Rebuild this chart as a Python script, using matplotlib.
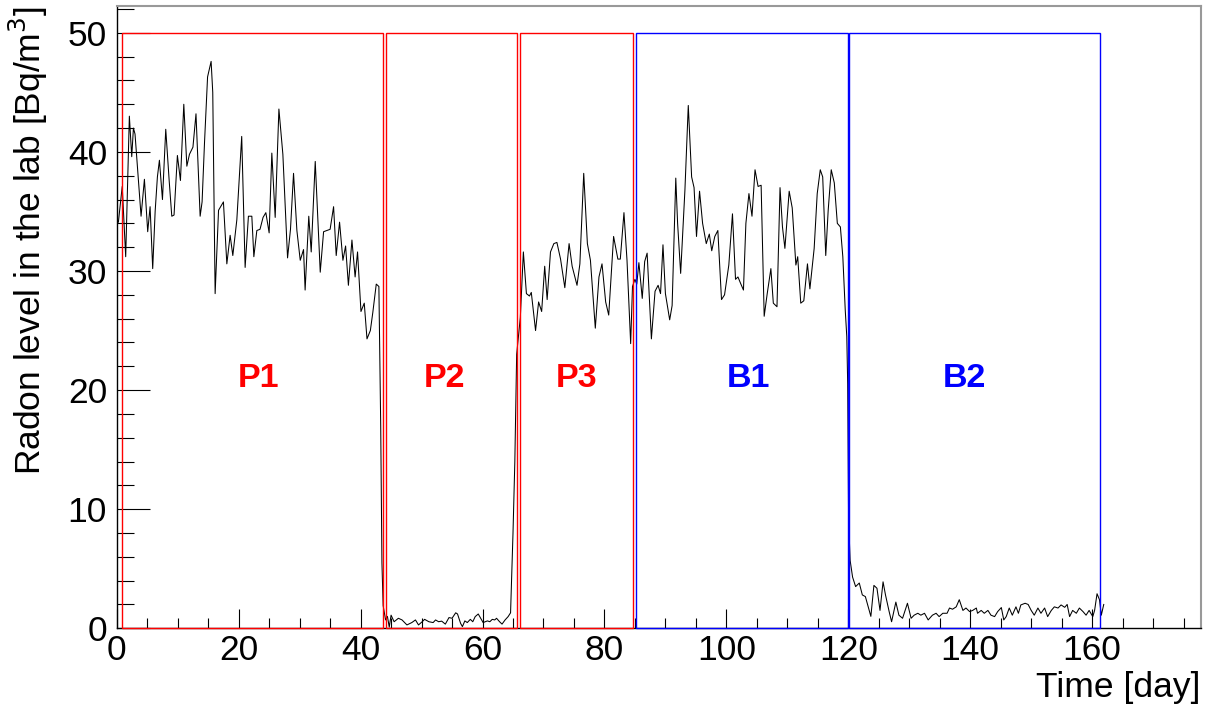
import matplotlib
matplotlib.use("Agg")
import matplotlib.pyplot as plt
from matplotlib.patches import Rectangle
from matplotlib.ticker import MultipleLocator

plt.rcParams['font.family'] = ['Liberation Sans', 'DejaVu Sans']

# ---- data ----
day = [0.27, 0.9, 1.47, 2.07, 2.46, 2.74, 3.0, 3.99, 4.54, 5.08, 5.47, 5.9, 6.3, 6.67, 7.0, 7.5,
       8.04, 8.6, 9.03, 9.4, 9.95, 10.45, 11.0, 11.5, 11.93, 12.5, 13.0, 13.25, 13.68, 14.0, 14.4,
       14.9, 15.48, 15.75, 16.14, 16.7, 17.5, 18.06, 18.6, 19.04, 19.7, 20.5, 21.06, 21.6, 22.16,
       22.49, 22.98, 23.5, 24.0, 24.46, 25.0, 25.44, 25.99, 26.6, 27.25, 28.02, 28.5, 29.0, 29.55,
       30.1, 30.64, 30.9, 31.5, 31.9, 32.56, 33.38, 33.93, 35.0, 35.57, 36.0, 36.55, 37.1, 37.54,
       38.0, 38.58, 39.1, 39.5, 40.06, 40.6, 41.05, 41.6, 42.0, 42.57, 43.0, 43.3, 43.5, 43.7,
       44.1, 44.4, 44.7, 45.0, 45.5, 46.2, 46.8, 47.6, 48.4, 49.0, 49.5, 50.1, 50.5, 51.2, 51.9,
       52.3, 52.8, 53.3, 53.9, 54.5, 55.0, 55.6, 55.9, 56.4, 56.7, 57.1, 57.5, 58.0, 58.4, 58.8,
       59.3, 59.7, 60.1, 60.8, 61.2, 61.6, 62.0, 62.3, 62.8, 63.2, 63.7, 64.2, 64.6, 64.8, 65.0,
       65.3, 65.6, 66.2, 66.7, 67.2, 67.7, 68.0, 68.7, 69.2, 69.7, 70.2, 70.6, 71.15, 71.7, 72.2,
       72.8, 73.5, 74.2, 74.7, 75.5, 75.97, 76.6, 77.2, 77.7, 78.5, 79.1, 79.6, 80.2, 80.7, 81.5,
       82.2, 82.6, 83.2, 83.7, 84.3, 84.6, 85.0, 85.3, 85.65, 86.2, 86.6, 87.0, 87.7, 88.3, 88.8,
       89.2, 89.6, 90.0, 90.7, 91.1, 91.7, 92.0, 92.5, 93.2, 93.75, 94.3, 94.7, 95.1, 95.6, 96.1,
       96.7, 97.2, 97.6, 98.1, 98.6, 99.2, 99.7, 100.4, 101.0, 101.5, 101.9, 102.3, 102.8, 103.2,
       103.7, 104.2, 104.7, 105.2, 105.7, 106.2, 106.7, 107.3, 107.7, 108.3, 108.8, 109.2, 109.6,
       110.3, 110.8, 111.4, 111.7, 112.2, 112.7, 113.3, 113.7, 114.4, 114.9, 115.4, 115.8, 116.3,
       116.7, 117.2, 117.7, 118.2, 118.7, 119.1, 119.5, 119.75, 119.9, 120.05, 120.3,
       120.7, 121.2, 121.8, 122.3, 122.8, 123.1, 123.7, 124.2, 124.7, 125.2, 125.7, 126.1, 126.7,
       127.1, 127.8, 128.3, 128.9, 129.7, 130.3, 130.8, 131.4, 131.9, 132.5, 133.1, 133.8, 134.4,
       134.9, 135.5, 136.2, 136.6, 137.1, 137.7, 138.2, 138.8, 139.3, 139.9, 140.4, 141.0, 141.2,
       141.8, 142.3, 142.9, 143.4, 144.0, 144.5, 145.1, 145.5, 145.9, 146.4, 146.9, 147.5, 147.9,
       148.3, 149.0, 149.5, 150.0, 150.5, 151.1, 151.6, 152.2, 152.7, 153.3, 153.8, 154.4, 154.9,
       155.5, 155.9, 156.3, 156.8, 157.4, 157.9, 158.5, 159.0, 159.5, 160.1, 160.4, 160.8, 161.2,
       161.5, 161.9]

radon = [34.1, 37.1, 31.2, 43.0, 39.6, 42.0, 41.5, 34.6, 37.7, 33.3, 35.4, 30.2, 35.0, 37.9, 39.3, 36.0,
         41.9, 37.6, 34.6, 34.7, 39.7, 37.6, 44.0, 38.8, 39.8, 40.4, 43.2, 40.0, 34.6, 35.8, 40.8,
         46.3, 47.6, 45.0, 28.1, 35.1, 35.8, 30.6, 33.0, 31.3, 34.3, 41.3, 30.3, 34.6, 34.6,
         31.2, 33.4, 33.5, 34.5, 34.9, 33.2, 39.9, 34.5, 43.6, 39.8, 31.1, 33.5, 38.2, 33.4,
         30.9, 31.8, 28.4, 34.6, 31.6, 39.2, 29.9, 33.3, 33.5, 35.4, 31.3, 34.1, 30.9, 32.1,
         28.8, 32.6, 29.5, 31.6, 26.6, 27.3, 24.3, 25.0, 26.5, 28.9, 28.7, 17.0, 5.5, 1.9,
         0.7, 1.0, 0.1, 1.1, 0.55, 0.84, 0.7, 0.28, 0.48, 0.7, 0.28, 0.55, 0.75, 0.55, 0.48,
         0.7, 0.55, 0.6, 0.35, 0.9, 0.84, 1.3, 1.2, 0.42, 0.14, 0.62, 0.48, 0.75, 0.55, 0.98,
         1.2, 0.84, 0.48, 0.62, 0.55, 0.75, 0.7, 0.84, 0.55, 0.35, 0.7, 0.98, 1.3, 4.6, 8.0,
         14.0, 23.0, 26.1, 31.6, 28.1, 27.9, 28.2, 25.0, 27.4, 26.6, 30.4, 27.6, 31.6, 32.3, 32.4,
         31.0, 28.6, 32.3, 30.4, 28.8, 30.6, 38.2, 32.3, 30.9, 25.2, 29.5, 30.6, 27.4, 26.3, 32.9,
         31.0, 31.0, 34.9, 30.9, 23.9, 28.7, 29.3, 28.9, 30.7, 27.7, 30.8, 31.5, 24.3, 28.3, 28.8,
         28.1, 32.2, 28.1, 25.9, 27.1, 37.8, 34.0, 29.8, 36.8, 43.9, 37.9, 37.0, 32.9, 36.7, 34.0,
         32.3, 33.1, 31.7, 32.9, 33.4, 27.6, 28.0, 30.5, 34.8, 29.3, 29.5, 29.0, 28.4, 34.0,
         36.5, 34.6, 38.5, 37.1, 37.2, 26.2, 28.1, 30.2, 27.3, 27.0, 37.0, 33.7, 31.9,
         36.7, 35.3, 30.5, 31.2, 27.3, 27.5, 30.6, 28.5, 31.9, 36.5, 38.5, 37.9, 31.3,
         35.1, 38.5, 37.4, 34.0, 33.7, 31.2, 26.7, 24.5, 20.5, 9.0, 5.7,
         4.3, 3.5, 3.8, 2.8, 2.66, 2.1, 1.0, 3.6, 3.36, 1.5, 3.9, 2.8, 1.4,
         0.55, 2.2, 1.1, 0.84, 2.1, 0.84, 1.1, 1.26, 1.1, 1.26, 0.7, 1.1, 1.26,
         0.98, 1.26, 1.26, 1.7, 1.6, 1.8, 2.4, 1.5, 1.7, 1.4, 1.5, 1.7, 1.26,
         1.5, 1.26, 1.5, 1.1, 0.98, 1.4, 1.74, 0.7, 0.98, 1.7, 1.1, 1.8, 1.26,
         1.96, 2.1, 2.0, 1.5, 1.1, 1.7, 1.26, 1.7, 0.98, 1.5, 1.8, 1.7, 1.96,
         1.76, 2.0, 0.98, 1.5, 1.26, 1.7, 1.4, 1.1, 1.5, 0.98, 1.5, 2.9, 2.4,
         1.1, 2.0]

box_names = ["P1", "P2", "P3", "B1", "B2"]
box_start = [0.87, 44.2, 66.1, 85.2, 120.1]
box_end = [43.7, 65.6, 84.7, 120.0, 161.3]
box_colors = ["#ff0000", "#ff0000", "#ff0000", "#0000ff", "#0000ff"]
box_top = 50
label_x = [23.2, 53.7, 75.5, 103.7, 139.0]
label_y = 21.0

# ---- figure ----
fig = plt.figure(figsize=(12.16, 7.08), dpi=100)
ax = fig.add_axes([0.096, 0.1126, 0.8914, 0.8789])

ax.plot(day, radon, color='black', lw=0.75, zorder=2)

for name, s, e, c, lx in zip(box_names, box_start, box_end, box_colors, label_x):
    ax.add_patch(Rectangle((s, 0), e - s, box_top, fill=False, ec=c, lw=1.0,
                           zorder=3, clip_on=False))
    ax.text(lx, label_y, name, color=c, fontsize=24.5, fontweight='bold',
            ha='center', va='center')

ax.set_xlim(0, 177.8)
ax.set_ylim(0, 52.25)

ax.xaxis.set_major_locator(MultipleLocator(20))
ax.xaxis.set_minor_locator(MultipleLocator(5))
ax.yaxis.set_major_locator(MultipleLocator(10))
ax.yaxis.set_minor_locator(MultipleLocator(2))

ax.tick_params(axis='both', which='both', direction='in', width=0.8, colors='black')
ax.tick_params(axis='x', which='major', length=13.7, pad=4, labelsize=25.5)
ax.tick_params(axis='x', which='minor', length=7.2)
ax.tick_params(axis='y', which='major', length=23.8, pad=7, labelsize=25.5)
ax.tick_params(axis='y', which='minor', length=12)

for side in ['left', 'bottom']:
    ax.spines[side].set_color('black')
    ax.spines[side].set_linewidth(1.0)
for side in ['top', 'right']:
    ax.spines[side].set_color('#999999')
    ax.spines[side].set_linewidth(1.5)

ax.set_xlabel('Time [day]', fontsize=25.5, loc='right')
ax.xaxis.set_label_coords(1.0, -0.068)
ax.set_ylabel('Radon level in the lab [Bq/m$^{3}$]', fontsize=25.5, loc='top')
ax.yaxis.set_label_coords(-0.062, 1.0)

fig.savefig('out.png', dpi=100)
